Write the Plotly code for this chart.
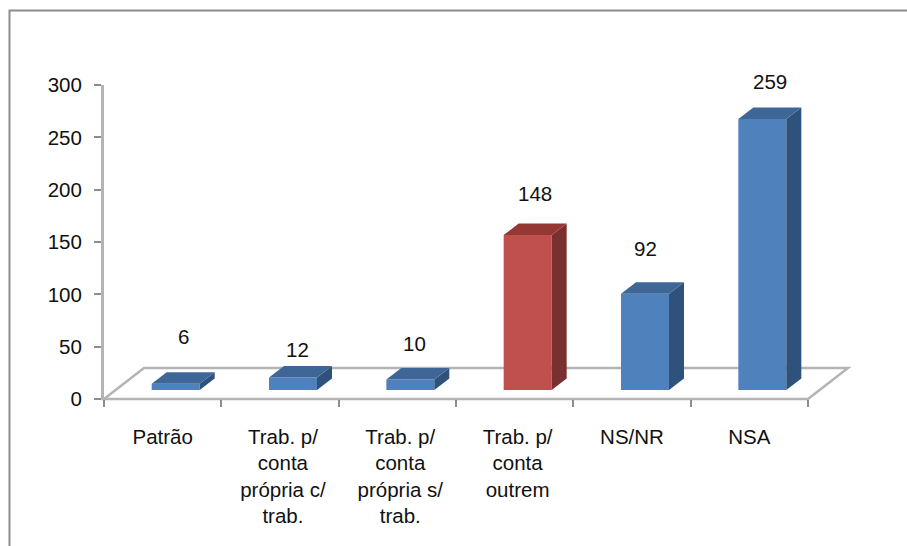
import plotly.graph_objects as go

categories = ["Patrão", "Trab. p/<br>conta<br>própria c/<br>trab.", "Trab. p/<br>conta<br>própria s/<br>trab.",
              "Trab. p/<br>conta<br>outrem", "NS/NR", "NSA"]
values = [6, 12, 10, 148, 92, 259]
y_ticks = [0, 50, 100, 150, 200, 250, 300]

front_colors = ["#4F81BD", "#4F81BD", "#4F81BD", "#C0504D", "#4F81BD", "#4F81BD"]
top_colors = ["#3E6797", "#3E6797", "#3E6797", "#953735", "#3E6797", "#3E6797"]
side_colors = ["#2F527C", "#2F527C", "#2F527C", "#7A302E", "#2F527C", "#2F527C"]
label_dy = [47, 28, 36, 42, 45, 37]
label_dx = [8, 4, 4, 7, 0, 8]
tick_nudge = [0, 0.025, 0.025, 0.025, 0, 0]

W, H = 907, 546
L, R, T, B = 104, 808, 85, 399
PXX = (R - L) / 6
PXY = (B - T) / 300
base = 9 / PXY
bar_w = 48 / PXX
off = 13 / PXX
dx = 15 / PXX
dy = 11.5 / PXY
centers = [i + 0.5 + off for i in range(6)]
GRAY = "#B4B4B4"
FONT = dict(family="Liberation Sans", size=20.5, color="#111111")

fig = go.Figure()
fig.add_trace(go.Bar(x=centers, y=values, base=[base] * 6, width=bar_w,
                     marker=dict(color=front_colors, line=dict(width=0)),
                     showlegend=False, hoverinfo="skip"))
for c, v, tc, sc in zip(centers, values, top_colors, side_colors):
    l, r = c - bar_w / 2, c + bar_w / 2
    ft = base + v
    fig.add_trace(go.Scatter(x=[r, r + dx, r + dx, r, r], y=[base, base + dy, ft + dy, ft, base],
                             mode="lines", fill="toself", fillcolor=sc, line=dict(width=0),
                             showlegend=False, hoverinfo="skip"))
    fig.add_trace(go.Scatter(x=[l, r, r + dx, l + dx, l], y=[ft, ft, ft + dy, ft + dy, ft],
                             mode="lines", fill="toself", fillcolor=tc, line=dict(width=0),
                             showlegend=False, hoverinfo="skip"))

annotations = [dict(x=c, y=base + v, xref="x", yref="y", text=str(v), showarrow=False,
                    font=FONT, xshift=ddx, yshift=ddy, xanchor="center", yanchor="middle")
               for c, v, ddx, ddy in zip(centers, values, label_dx, label_dy)]

def px(x): return (x - L) / (R - L)
def py(y): return (B - y) / (B - T)
floor = f"M {px(104)} {py(399)} L {px(144)} {py(368)} L {px(848)} {py(368)} L {px(808)} {py(399)} Z"
shapes = [dict(type="path", path=floor, xref="paper", yref="paper", layer="below",
               line=dict(color=GRAY, width=2.5)),
          dict(type="path", xref="paper", yref="paper", layer="below",
               path=f"M {px(9.5)} {py(546)} L {px(9.5)} {py(10.5)} L {px(907)} {py(10.5)}",
               line=dict(color="#8C8C8C", width=2))]

fig.update_layout(
    width=W, height=H, margin=dict(l=L, r=W - R, t=T, b=H - B, pad=0),
    paper_bgcolor="white", plot_bgcolor="rgba(0,0,0,0)", showlegend=False,
    annotations=annotations, shapes=shapes,
    font=FONT,
    xaxis=dict(range=[0, 6], tickmode="array", tickvals=[i + 0.5 + n for i, n in enumerate(tick_nudge)],
               ticktext=categories, ticks="", ticklen=0, showgrid=False, zeroline=False,
               showline=False, tickfont=FONT, tickangle=0, ticklabelstandoff=23,
               minor=dict(tickmode="array", tickvals=list(range(7)), ticks="outside",
                          ticklen=7, tickwidth=2, tickcolor="#8C8C8C", showgrid=False)),
    yaxis=dict(range=[0, 300], tickmode="array", tickvals=y_ticks, ticks="outside", ticklen=7,
               tickwidth=2, tickcolor="#8C8C8C", showgrid=False, zeroline=False,
               showline=True, linecolor=GRAY, linewidth=3, tickfont=FONT, ticklabelstandoff=8),
)
fig.write_html("out.html", config=dict(displayModeBar=False),
               post_script="document.body.style.margin='0';document.body.style.overflow='hidden';")
